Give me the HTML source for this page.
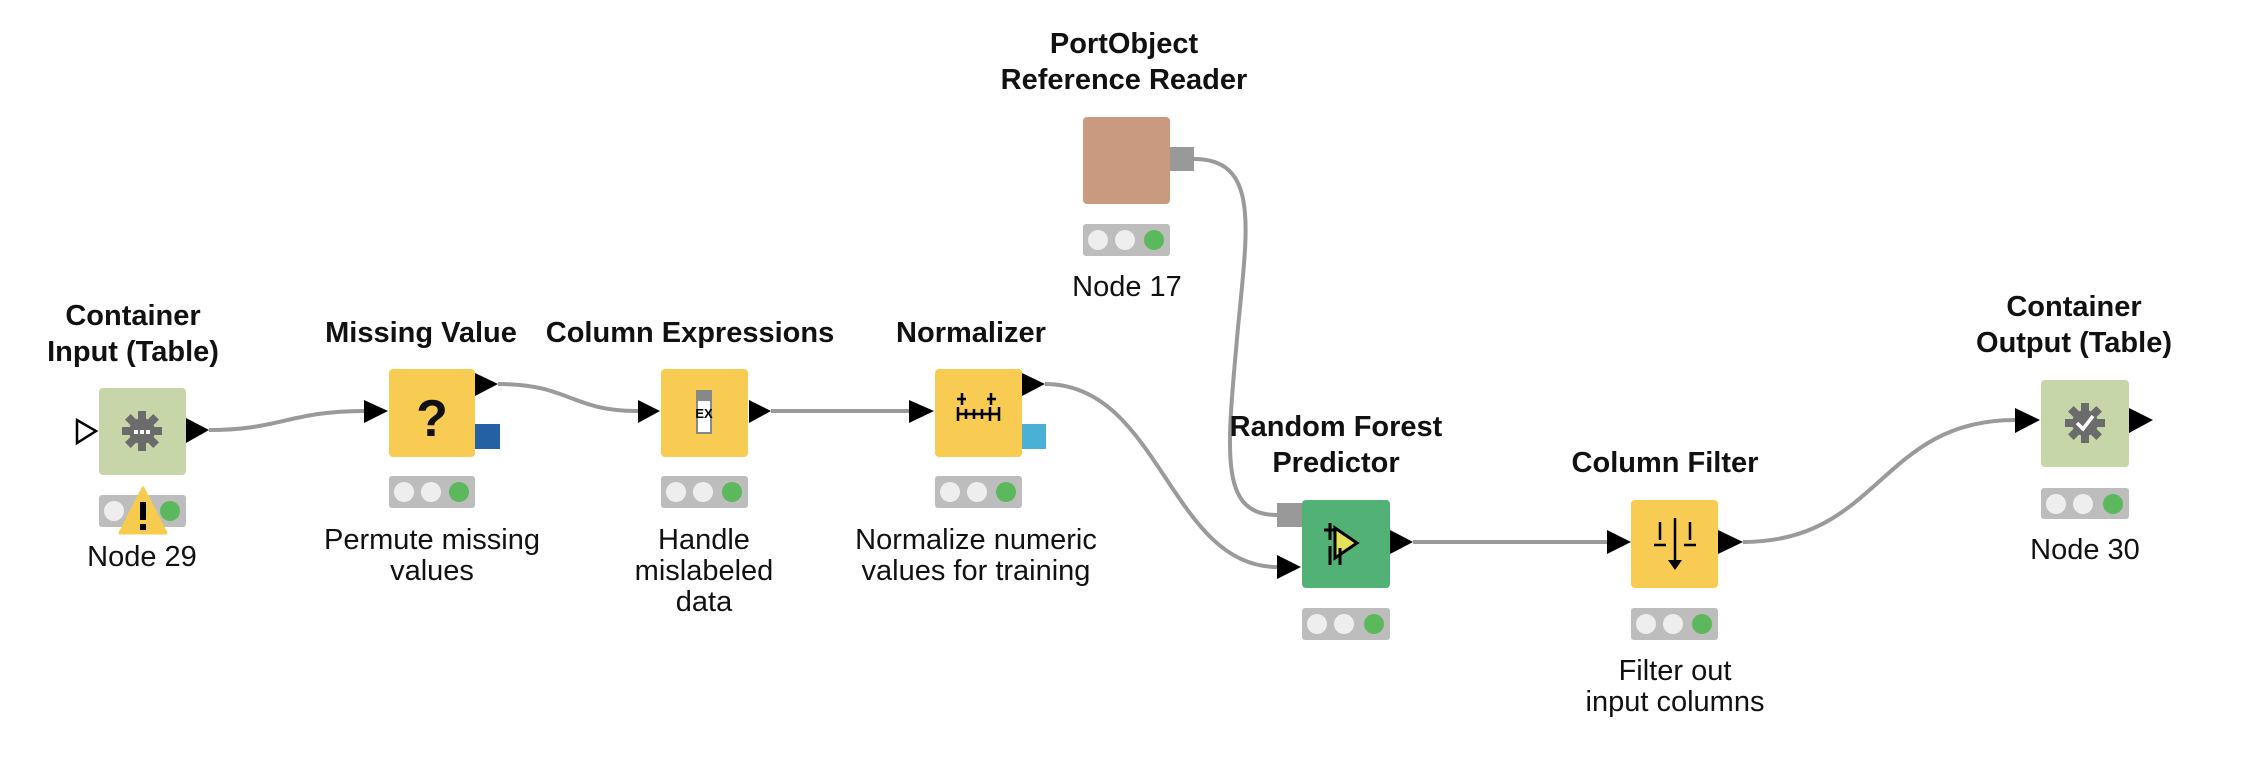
<!DOCTYPE html>
<html><head><meta charset="utf-8"><style>
html,body{margin:0;padding:0;background:#fff;}
body{width:2262px;height:772px;position:relative;overflow:hidden;font-family:"Liberation Sans",Arial,sans-serif;}
.t{position:absolute;transform:translateX(-50%);white-space:nowrap;font-size:29px;color:#111;text-align:center;line-height:31px;}
.b{font-weight:bold;line-height:36px;}
</style></head><body>
<svg width="2262" height="772" style="position:absolute;left:0;top:0">
<g fill="none" stroke="#9a9a9a" stroke-width="4">
<path d="M209 430 C280 430 290 411 364 411"/>
<path d="M498 384 C570 384 570 411 638 411"/>
<path d="M771 411 L909 411"/>
<path d="M1045 384 C1160 384 1170 567 1277 567"/>
<path d="M1194 159 C1265 159 1245 240 1236 350 C1226 460 1222 515 1277 515"/>
<path d="M1413 542 L1607 542"/>
<path d="M1743 542 C1880 542 1880 420 2015 420"/>
</g>
<rect x="99" y="388" width="87" height="87" rx="4" fill="#C7D6A8"/>
<polygon points="77,420 77,443 96,431" fill="#fff" stroke="#000" stroke-width="2.5"/>
<polygon points="186,418 186,443 209,430" fill="#000"/>
<g transform="translate(142,431)" fill="#6b6b6b"><circle r="13"/><rect x="-4" y="-20" width="8" height="40"/><rect x="-20" y="-4" width="40" height="8"/><rect x="-4" y="-20" width="8" height="40" transform="rotate(45)"/><rect x="-4" y="-20" width="8" height="40" transform="rotate(-45)"/></g>
<g fill="#fff"><rect x="134" y="430" width="4" height="4"/><rect x="140" y="430" width="4" height="4"/><rect x="146" y="430" width="4" height="4"/></g>
<rect x="389" y="369" width="86" height="88" rx="4" fill="#F8CC52"/>
<polygon points="364,400 364,423 388,411" fill="#000"/>
<polygon points="475,373 475,396 498,384" fill="#000"/>
<rect x="475" y="424" width="25" height="25" fill="#2460A4"/>
<text x="432" y="436" font-size="52" font-weight="bold" text-anchor="middle" font-family="Liberation Sans,sans-serif" fill="#111">?</text>
<rect x="661" y="369" width="87" height="88" rx="4" fill="#F8CC52"/>
<polygon points="638,400 638,423 660,411" fill="#000"/>
<polygon points="749,400 749,423 771,411" fill="#000"/>
<rect x="697" y="391" width="14" height="42" fill="#fff" stroke="#888" stroke-width="2"/>
<rect x="697" y="391" width="14" height="10" fill="#888"/>
<text x="704" y="418" font-size="13" font-weight="bold" text-anchor="middle" fill="#000">EX</text>
<rect x="935" y="369" width="87" height="88" rx="4" fill="#F8CC52"/>
<polygon points="909,400 909,423 934,411" fill="#000"/>
<polygon points="1022,373 1022,396 1045,384" fill="#000"/>
<rect x="1022" y="424" width="24" height="25" fill="#4BB0D5"/>
<g stroke="#000" stroke-width="2.5"><line x1="957" y1="414" x2="1000" y2="414"/><line x1="958" y1="407" x2="958" y2="421"/><line x1="966" y1="409" x2="966" y2="419"/><line x1="974" y1="409" x2="974" y2="419"/><line x1="982" y1="409" x2="982" y2="419"/><line x1="990" y1="407" x2="990" y2="421"/><line x1="999" y1="407" x2="999" y2="421"/><line x1="962" y1="393" x2="962" y2="405"/><line x1="991" y1="393" x2="991" y2="405"/><line x1="957" y1="399" x2="966" y2="399"/><line x1="987" y1="399" x2="996" y2="399"/></g>
<rect x="1083" y="117" width="87" height="87" rx="4" fill="#C99A80"/>
<rect x="1170" y="147" width="24" height="24" fill="#999"/>
<rect x="1302" y="500" width="88" height="88" rx="4" fill="#52B175"/>
<rect x="1277" y="503" width="25" height="24" fill="#999"/>
<polygon points="1277,555 1277,579 1301,567" fill="#000"/>
<polygon points="1390,530 1390,554 1413,542" fill="#000"/>
<polygon points="1335,528 1335,558 1357,543" fill="#E2E35A" stroke="#000" stroke-width="3"/>
<g stroke="#000" stroke-width="3"><line x1="1330" y1="523" x2="1330" y2="540"/><line x1="1324" y1="530" x2="1336" y2="530"/><line x1="1330" y1="546" x2="1330" y2="565"/><line x1="1340" y1="548" x2="1340" y2="565"/></g>
<rect x="1631" y="500" width="87" height="88" rx="4" fill="#F8CC52"/>
<polygon points="1607,530 1607,554 1631,542" fill="#000"/>
<polygon points="1718,530 1718,554 1743,542" fill="#000"/>
<g stroke="#000" stroke-width="2.5"><line x1="1675" y1="518" x2="1675" y2="562"/><line x1="1660" y1="522" x2="1660" y2="540"/><line x1="1690" y1="522" x2="1690" y2="540"/><line x1="1654" y1="545" x2="1666" y2="545"/><line x1="1684" y1="545" x2="1696" y2="545"/></g>
<polygon points="1668,560 1682,560 1675,570" fill="#000"/>
<rect x="2041" y="380" width="88" height="87" rx="4" fill="#C7D6A8"/>
<polygon points="2015,408 2015,433 2040,420" fill="#000"/>
<polygon points="2129,408 2129,433 2153,420" fill="#000"/>
<g transform="translate(2085,423)" fill="#6b6b6b"><circle r="13"/><rect x="-4" y="-20" width="8" height="40"/><rect x="-20" y="-4" width="40" height="8"/><rect x="-4" y="-20" width="8" height="40" transform="rotate(45)"/><rect x="-4" y="-20" width="8" height="40" transform="rotate(-45)"/></g>
<polyline points="2077,423 2083,429 2093,416" fill="none" stroke="#fff" stroke-width="3.5"/>
<g>
<rect x="99" y="495" width="87" height="32" rx="3" fill="#BDBDBD"/>
<rect x="389" y="476" width="86" height="32" rx="3" fill="#BDBDBD"/>
<rect x="661" y="476" width="87" height="32" rx="3" fill="#BDBDBD"/>
<rect x="935" y="476" width="87" height="32" rx="3" fill="#BDBDBD"/>
<rect x="1083" y="224" width="87" height="32" rx="3" fill="#BDBDBD"/>
<rect x="1302" y="608" width="88" height="32" rx="3" fill="#BDBDBD"/>
<rect x="1631" y="608" width="87" height="32" rx="3" fill="#BDBDBD"/>
<rect x="2041" y="488" width="88" height="31" rx="3" fill="#BDBDBD"/>
</g>
<g>
<circle cx="114" cy="511" r="10" fill="#eee"/><circle cx="170" cy="511" r="10" fill="#5CB85C"/>
<circle cx="404" cy="492" r="10" fill="#eee"/><circle cx="431" cy="492" r="10" fill="#eee"/><circle cx="459" cy="492" r="10" fill="#5CB85C"/>
<circle cx="676" cy="492" r="10" fill="#eee"/><circle cx="703" cy="492" r="10" fill="#eee"/><circle cx="732" cy="492" r="10" fill="#5CB85C"/>
<circle cx="950" cy="492" r="10" fill="#eee"/><circle cx="977" cy="492" r="10" fill="#eee"/><circle cx="1006" cy="492" r="10" fill="#5CB85C"/>
<circle cx="1098" cy="240" r="10" fill="#eee"/><circle cx="1125" cy="240" r="10" fill="#eee"/><circle cx="1154" cy="240" r="10" fill="#5CB85C"/>
<circle cx="1317" cy="624" r="10" fill="#eee"/><circle cx="1344" cy="624" r="10" fill="#eee"/><circle cx="1374" cy="624" r="10" fill="#5CB85C"/>
<circle cx="1646" cy="624" r="10" fill="#eee"/><circle cx="1673" cy="624" r="10" fill="#eee"/><circle cx="1702" cy="624" r="10" fill="#5CB85C"/>
<circle cx="2056" cy="504" r="10" fill="#eee"/><circle cx="2083" cy="504" r="10" fill="#eee"/><circle cx="2113" cy="504" r="10" fill="#5CB85C"/>
</g>
<polygon points="143,488 120,533 166,533" fill="#F7CB4D" stroke="#F7CB4D" stroke-width="3" stroke-linejoin="round"/>
<rect x="140" y="502" width="6" height="18" fill="#000"/><rect x="140" y="524" width="6" height="6" fill="#000"/>
</svg>
<div class="t b" style="left:133px;top:298px">Container<br>Input (Table)</div>
<div class="t" style="left:142px;top:542px">Node 29</div>
<div class="t b" style="left:421px;top:315px">Missing Value</div>
<div class="t" style="left:432px;top:525px">Permute missing<br>values</div>
<div class="t b" style="left:690px;top:315px">Column Expressions</div>
<div class="t" style="left:704px;top:525px">Handle<br>mislabeled<br>data</div>
<div class="t b" style="left:971px;top:315px">Normalizer</div>
<div class="t" style="left:976px;top:525px">Normalize numeric<br>values for training</div>
<div class="t b" style="left:1124px;top:26px">PortObject<br>Reference Reader</div>
<div class="t" style="left:1127px;top:272px">Node 17</div>
<div class="t b" style="left:1336px;top:409px">Random Forest<br>Predictor</div>
<div class="t b" style="left:1665px;top:445px">Column Filter</div>
<div class="t" style="left:1675px;top:656px">Filter out<br>input columns</div>
<div class="t b" style="left:2074px;top:289px">Container<br>Output (Table)</div>
<div class="t" style="left:2085px;top:535px">Node 30</div>
</body></html>
